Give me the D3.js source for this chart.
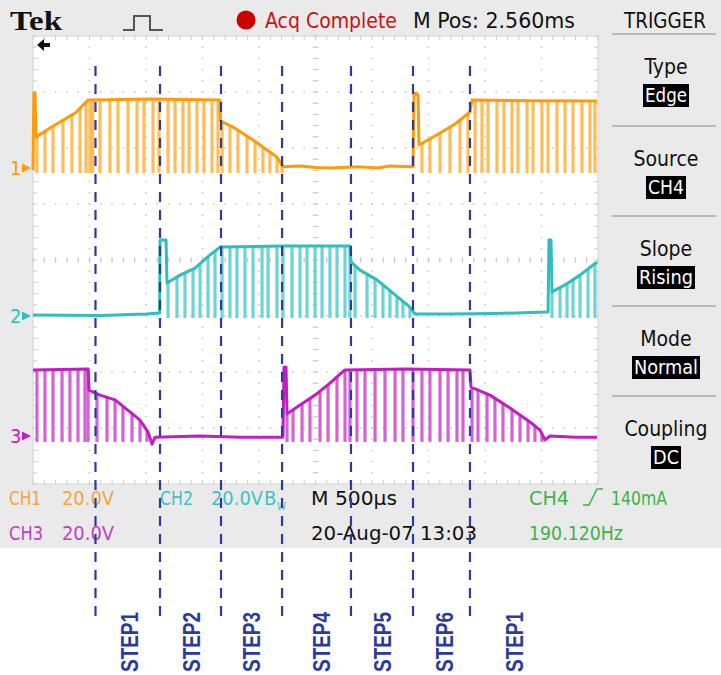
<!DOCTYPE html>
<html><head><meta charset="utf-8">
<script src="https://cdn.jsdelivr.net/npm/d3@7"></script>
<style>html,body{margin:0;padding:0;background:#fff}svg{display:block}</style>
</head><body>
<script>
// ---------------- data (time in ms, voltage in V) ----------------
const timeDomainMs = [0, 5];          // 10 div x 500 us
const divDomain = [-4, 4];            // 8 vertical divisions
const voltsPerDiv = 20;
const channelOffsetsDiv = [1.643, -1.0, -3.143];
const channelLowV = [-1.8, -0.7, -2.1];
const channelColors = ["#ff9a0a", "#2fbdbd", "#c21cc2"];
const channelPulseColors = ["#ffb548", "#5ccfcf", "#d050d0"];

const ch1Envelope = [[0,-0.7],[0.008,26.8],[0.018,26.8],[0.027,11.1],[0.150,14.3],[0.301,17.9],[0.380,19.8],[0.416,21.4],[0.487,24.3],[0.53,24.3],[1.035,24.6],[1.655,24.3],[1.659,16.8],[1.770,14.6],[1.947,10.0],[2.071,6.4],[2.159,3.9],[2.212,0.4],[2.363,0.7],[2.50,0.2],[2.628,0],[2.894,0.4],[3.05,0.0],[3.159,0.7],[3.363,0.4],[3.372,26.8],[3.407,26.1],[3.416,8.2],[3.602,12.5],[3.735,15.7],[3.867,20.0],[3.885,24.3],[4.4,24.0],[4.991,23.9]];
const ch1Pulses = [0.035,0.106,0.177,0.265,0.345,0.416,0.469,0.504,0.528,0.593,0.681,0.752,0.841,0.920,0.982,1.062,1.115,1.195,1.257,1.327,1.381,1.451,1.513,1.584,1.637,1.673,1.743,1.814,1.894,1.965,2.035,2.097,2.159,2.204,3.442,3.513,3.602,3.690,3.779,3.850,3.912,3.973,4.027,4.106,4.168,4.239,4.292,4.372,4.425,4.504,4.558,4.637,4.708,4.779,4.858,4.929,4.973];

const ch2Envelope = [[0,0.4],[0.6,0.2],[1.0,0.7],[1.12,1.1],[1.124,27.1],[1.177,27.1],[1.186,11.8],[1.301,14.6],[1.434,17.1],[1.566,21.8],[1.655,24.6],[2.2,25.0],[2.805,25.0],[2.814,19.3],[2.894,16.4],[3.044,12.9],[3.186,8.2],[3.336,3.2],[3.381,0.7],[3.69,0.7],[4.1,0.9],[4.558,1.4],[4.566,27.1],[4.584,27.1],[4.593,8.6],[4.708,11.1],[4.841,14.6],[4.991,19.3]];
const ch2Pulses = [1.195,1.274,1.345,1.416,1.478,1.549,1.611,1.673,1.743,1.805,1.876,1.947,2.027,2.080,2.159,2.212,2.292,2.363,2.425,2.496,2.558,2.628,2.690,2.761,2.805,2.850,2.956,3.027,3.097,3.159,3.221,3.274,3.336,4.593,4.664,4.726,4.779,4.841,4.912,4.973];

const ch3Envelope = [[0,23.6],[0.487,23.9],[0.496,16.4],[0.593,14.6],[0.726,12.9],[0.858,8.6],[0.947,5.7],[1.018,1.4],[1.053,-2.9],[1.080,-0.4],[1.478,0],[1.832,-0.4],[2.212,-0.4],[2.221,24.6],[2.239,24.6],[2.248,7.9],[2.363,11.1],[2.496,14.6],[2.628,18.9],[2.717,22.1],[2.761,23.6],[3.3,23.9],[3.867,23.6],[3.876,17.5],[4.044,14.6],[4.221,10.0],[4.398,5.0],[4.487,2.1],[4.531,-1.4],[4.575,0],[4.8,-0.4],[4.991,-0.4]];
const ch3Pulses = [0.035,0.106,0.177,0.257,0.327,0.398,0.460,0.487,0.566,0.655,0.726,0.796,0.876,0.947,1.009,2.248,2.301,2.381,2.451,2.540,2.611,2.690,2.761,2.805,2.867,2.938,3.027,3.115,3.204,3.274,3.363,3.442,3.513,3.602,3.673,3.752,3.805,3.885,3.938,4.018,4.088,4.159,4.239,4.310,4.381,4.442,4.504];

const stepBoundariesMs = [0.553, 1.124, 1.664, 2.204, 2.814, 3.363, 3.867];
const stepLabels = ["STEP1","STEP2","STEP3","STEP4","STEP5","STEP6","STEP1"];
const stepLabelMs = [0.858, 1.404, 1.935, 2.555, 3.097, 3.646, 4.265];

const triggerLabels = ["Type","Source","Slope","Mode","Coupling"];
const triggerValues = ["Edge","CH4","Rising","Normal","DC"];

const envelopes = [ch1Envelope, ch2Envelope, ch3Envelope];
const pulses = [ch1Pulses, ch2Pulses, ch3Pulses];

// ---------------- drawing ----------------
const W = 721, H = 675;
const svg = d3.select("body").append("svg").attr("width", W).attr("height", H);
const NARROW = "'Liberation Sans Narrow','DejaVu Sans Condensed','Liberation Sans',Arial,sans-serif";

const x = d3.scaleLinear().domain(timeDomainMs).range([33, 598]);
const yDiv = d3.scaleLinear().domain(divDomain).range([484, 36]);
const yCh = (c, v) => yDiv(channelOffsetsDiv[c] + v / voltsPerDiv);

// scope screen background
svg.append("rect").attr("x",0).attr("y",0).attr("width",W).attr("height",548).attr("fill","#eaeaea");
svg.append("rect").attr("x",x(0)).attr("y",yDiv(4)).attr("width",x(5)-x(0)).attr("height",yDiv(-4)-yDiv(4)).attr("fill","#ffffff");

// graticule
const grid = svg.append("g");
const gcol = "#cacaca";
const minorX = d3.range(0, 5.0001, 0.1);
const minorY = d3.range(-4, 4.0001, 0.2);
const majorX = d3.range(0.5, 5, 0.5);
const majorY = d3.range(-3, 4, 1);
majorX.forEach(t => {
  minorY.forEach(d => grid.append("rect").attr("x", x(t)-0.8).attr("y", yDiv(d)-0.8).attr("width",1.6).attr("height",1.6).attr("fill",gcol));
});
majorY.forEach(d => {
  minorX.forEach(t => grid.append("rect").attr("x", x(t)-0.8).attr("y", yDiv(d)-0.8).attr("width",1.6).attr("height",1.6).attr("fill",gcol));
});
minorX.forEach(t => grid.append("line").attr("x1",x(t)).attr("x2",x(t)).attr("y1",yDiv(0)-3).attr("y2",yDiv(0)+3).attr("stroke",gcol).attr("stroke-width",1));
minorY.forEach(d => grid.append("line").attr("x1",x(2.5)-3).attr("x2",x(2.5)+3).attr("y1",yDiv(d)).attr("y2",yDiv(d)).attr("stroke",gcol).attr("stroke-width",1));
minorX.forEach(t => {
  grid.append("line").attr("x1",x(t)).attr("x2",x(t)).attr("y1",yDiv(4)).attr("y2",yDiv(4)+4).attr("stroke",gcol);
  grid.append("line").attr("x1",x(t)).attr("x2",x(t)).attr("y1",yDiv(-4)-4).attr("y2",yDiv(-4)).attr("stroke",gcol);
});
minorY.forEach(d => {
  grid.append("line").attr("x1",x(0)).attr("x2",x(0)+4).attr("y1",yDiv(d)).attr("y2",yDiv(d)).attr("stroke",gcol);
  grid.append("line").attr("x1",x(5)-4).attr("x2",x(5)).attr("y1",yDiv(d)).attr("y2",yDiv(d)).attr("stroke",gcol);
});
grid.append("rect").attr("x",x(0)).attr("y",yDiv(4)).attr("width",x(5)-x(0)).attr("height",yDiv(-4)-yDiv(4)).attr("fill","none").attr("stroke","#d4d4d4").attr("stroke-width",1);

// traces
function envAt(env, t) {
  const i = Math.max(1, Math.min(env.length-1, d3.bisector(d => d[0]).left(env, t)));
  const a = env[i-1], b = env[i];
  const f = (t - a[0]) / (b[0] - a[0] || 1);
  return a[1] + (b[1]-a[1]) * Math.max(0, Math.min(1, f));
}
const traces = svg.append("g");
envelopes.forEach((env, c) => {
  const g = traces.append("g");
  g.selectAll("line.p").data(pulses[c]).join("line").attr("class","p")
    .attr("x1", t => x(t)).attr("x2", t => x(t))
    .attr("y1", t => yCh(c, envAt(env, t))).attr("y2", yCh(c, channelLowV[c]))
    .attr("stroke", channelPulseColors[c]).attr("stroke-width", 3.2).attr("stroke-opacity", 0.9);
  g.append("path").datum(env)
    .attr("d", d3.line().x(d => x(d[0])).y(d => yCh(c, d[1])))
    .attr("fill","none").attr("stroke", channelColors[c]).attr("stroke-width", 3).attr("stroke-linejoin","round");
});

// channel ground markers
channelOffsetsDiv.forEach((o, c) => {
  const yy = yDiv(o);
  svg.append("text").attr("x", 10).attr("y", yy + 7).text(String(c+1))
    .attr("font-family", NARROW).attr("font-size", 20).attr("fill", channelColors[c]);
  svg.append("path").attr("d", `M22,${yy-4.5} L31,${yy} L22,${yy+4.5} Z`).attr("fill", channelColors[c]);
});
svg.append("path").attr("d","M37,45 L44,39 L44,43 L50,43 L50,47 L44,47 L44,51 Z").attr("fill","#111");

// top bar
svg.append("text").attr("x",10).attr("y",30).text("Tek").attr("font-family","'Liberation Serif','DejaVu Serif',serif")
  .attr("font-weight","bold").attr("font-size",27).attr("textLength",52).attr("lengthAdjust","spacingAndGlyphs").attr("fill","#111");
svg.append("path").attr("d","M123,30 H134 V16 H150 V30 H163").attr("fill","none").attr("stroke","#555").attr("stroke-width",2);
svg.append("circle").attr("cx",246).attr("cy",20).attr("r",9.5).attr("fill","#cc0000");
svg.append("text").attr("x",265).attr("y",28).text("Acq Complete").attr("font-family",NARROW).attr("font-size",21)
  .attr("textLength",132).attr("lengthAdjust","spacingAndGlyphs").attr("fill","#cc1111");
svg.append("text").attr("x",413).attr("y",28).text("M Pos: 2.560ms").attr("font-family",NARROW).attr("font-size",21)
  .attr("textLength",162).attr("lengthAdjust","spacingAndGlyphs").attr("fill","#111");
svg.append("text").attr("x",624).attr("y",28).text("TRIGGER").attr("font-family",NARROW).attr("font-size",21)
  .attr("textLength",82).attr("lengthAdjust","spacingAndGlyphs").attr("fill","#111");

// trigger panel
const sepY = [34, 126, 216, 306, 396];
sepY.forEach(s => svg.append("line").attr("x1",612).attr("x2",716).attr("y1",s).attr("y2",s).attr("stroke","#a8a8a8").attr("stroke-width",1.5));
const boxW = [46, 40, 58, 68, 30];
triggerLabels.forEach((lab, i) => {
  const s = sepY[i];
  svg.append("text").attr("x",666).attr("y",s+40).attr("text-anchor","middle").text(lab)
    .attr("font-family",NARROW).attr("font-size",21).attr("fill","#111");
  svg.append("rect").attr("x",666-boxW[i]/2).attr("y",s+50).attr("width",boxW[i]).attr("height",23).attr("fill","#000");
  svg.append("text").attr("x",666).attr("y",s+68).attr("text-anchor","middle").text(triggerValues[i])
    .attr("font-family",NARROW).attr("font-size",20).attr("fill","#fff")
    .attr("textLength",boxW[i]-4).attr("lengthAdjust","spacingAndGlyphs");
});

// status bar
function st(txt, xx, yy, col, len) {
  return svg.append("text").attr("x",xx).attr("y",yy).text(txt).attr("font-family",NARROW).attr("font-size",20)
    .attr("fill",col).attr("textLength",len).attr("lengthAdjust","spacingAndGlyphs");
}
st("CH1", 9, 505, "#f2a53a", 32);
st("20.0V", 62, 505, "#f2a53a", 52);
st("CH2", 160, 505, "#3fc2c2", 33);
st("20.0V", 211, 505, "#3fc2c2", 52);
svg.append("text").attr("x",264).attr("y",505).text("B").attr("font-family",NARROW).attr("font-size",20).attr("fill","#3fc2c2");
svg.append("text").attr("x",277).attr("y",510).text("W").attr("font-family",NARROW).attr("font-size",10).attr("fill","#3fc2c2");
st("M 500µs", 311, 505, "#111", 86);
st("CH4", 529, 505, "#3db34a", 40);
svg.append("path").attr("d","M583,505 H589 L597,489 H603").attr("fill","none").attr("stroke","#3db34a").attr("stroke-width",1.6);
st("140mA", 611, 505, "#3db34a", 56);
st("CH3", 9, 540, "#c040c0", 34);
st("20.0V", 62, 540, "#c040c0", 52);
st("20-Aug-07 13:03", 311, 540, "#111", 166);
st("190.120Hz", 529, 540, "#3db34a", 94);

// step boundaries and labels
const stepCol = "#2b3a9c";
svg.append("g").selectAll("line").data(stepBoundariesMs).join("line")
  .attr("x1", t => x(t)).attr("x2", t => x(t)).attr("y1", 66).attr("y2", 622)
  .attr("stroke", stepCol).attr("stroke-width", 2.2).attr("stroke-dasharray", "10,8");
svg.append("g").selectAll("text").data(stepLabels).join("text")
  .attr("transform", (d, i) => `translate(${x(stepLabelMs[i]) + 8.5},642) rotate(-90)`)
  .attr("text-anchor","middle").text(d => d)
  .attr("font-family","'Liberation Sans',Arial,sans-serif").attr("font-weight","bold").attr("font-size",23)
  .attr("textLength",60).attr("lengthAdjust","spacingAndGlyphs").attr("fill", stepCol);
</script>
</body></html>
